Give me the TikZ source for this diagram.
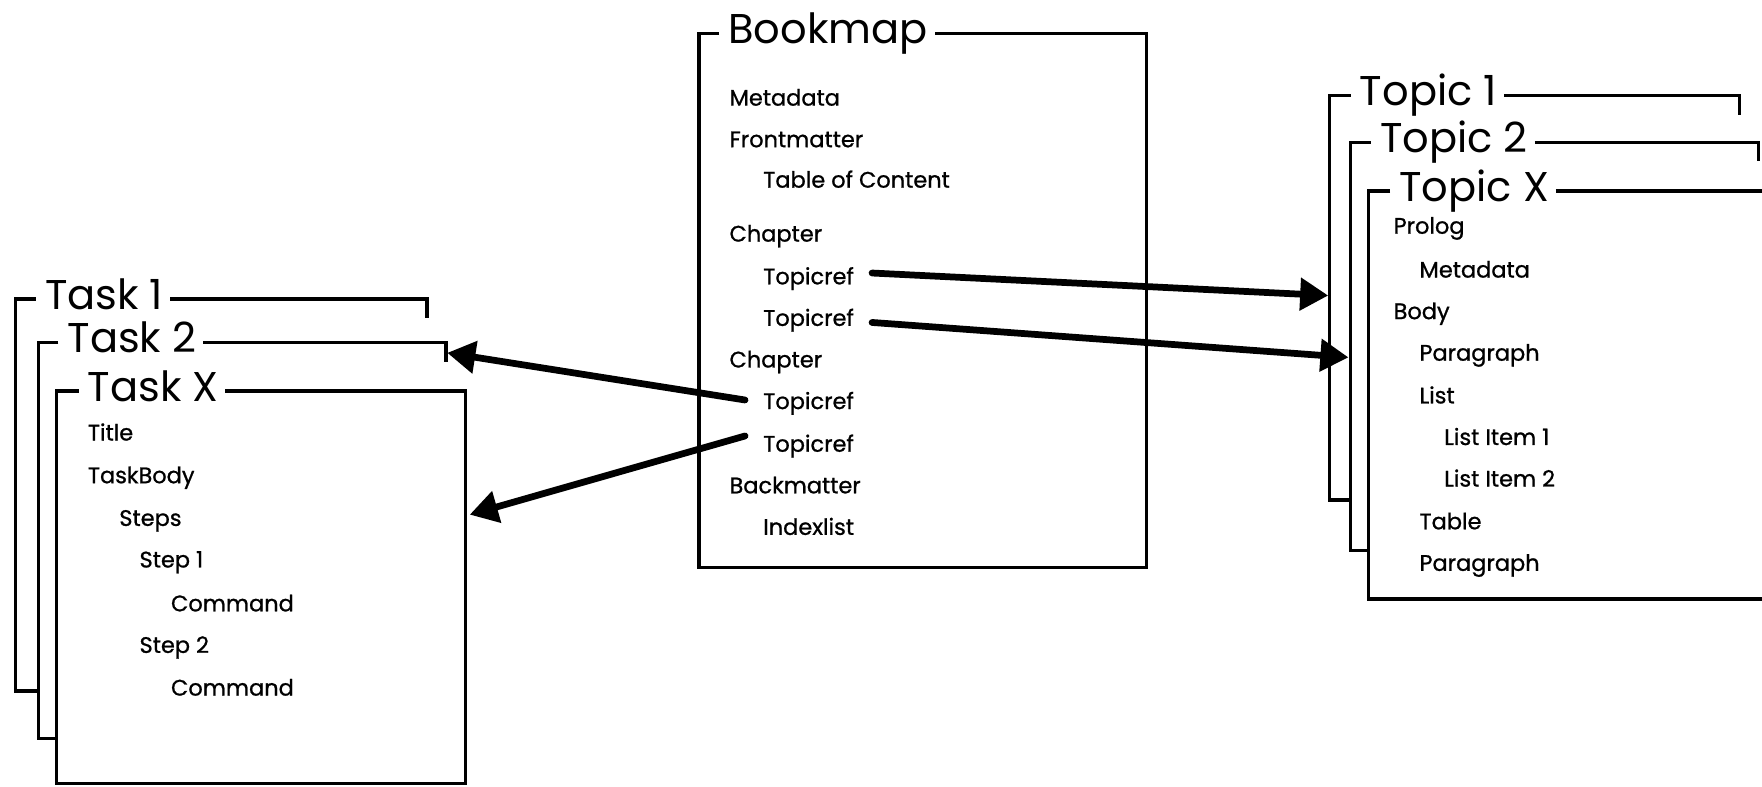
\documentclass[tikz,border=0pt]{standalone}
\usepackage{fontspec}
\setmainfont{Poppins}
\newfontfamily\itmfont{Poppins}[FakeBold=0.9]
\usetikzlibrary{arrows.meta,calc}
\begin{document}
\begin{tikzpicture}[x=1pt,y=-1pt,
  frame/.style={line width=3pt, line join=miter},
  ttl/.style={anchor=base west, inner sep=0pt, font=\fontsize{37}{40}\selectfont},
  itm/.style={anchor=base west, inner sep=0pt, font=\itmfont\fontsize{20}{24}\selectfont},
  arr/.style={line width=6pt, line cap=round, -{Triangle[length=25pt,width=28pt]}}]
\useasboundingbox (0,0) rectangle (1568,700);

% ---------- Bookmap ----------
\node[ttl] (bm) at (648,39) {Bookmap};
\draw[frame] ($(bm.base west)+(-8,-9)$) -| (622,505) -| (1020,30) -- ($(bm.base east)+(6,-9)$);
\node[itm] (b1) at (649,94) {Metadata};
\node[itm] (b2) at (649,131) {Frontmatter};
\node[itm] (b3) at (679,167) {Table of Content};
\node[itm] (b4) at (649,215) {Chapter};
\node[itm] (tr1) at (679,253) {Topicref};
\node[itm] (tr2) at (679,290) {Topicref};
\node[itm] (b7) at (649,327) {Chapter};
\node[itm] (tr3) at (679,364) {Topicref};
\node[itm] (tr4) at (679,402) {Topicref};
\node[itm] (b10) at (649,439) {Backmatter};
\node[itm] (b11) at (679,476) {Indexlist};

% ---------- Tasks ----------
\node[ttl] (t1) at (40,275) {Task 1};
\draw[frame] ($(t1.base west)+(-8,-9)$) -| (14,615) -- (34,615);
\draw[frame] ($(t1.base east)+(6,-9)$) -| (380,283);
\node[ttl] (t2) at (60,314) {Task 2};
\draw[frame] ($(t2.base west)+(-8,-9)$) -| (34,657) -- (50,657);
\draw[frame] ($(t2.base east)+(6,-9)$) -| (397,322);
\node[ttl] (tx) at (78,357) {Task X};
\draw[frame] ($(tx.base west)+(-8,-9)$) -| (50,697) -| (414,348) -- ($(tx.base east)+(6,-9)$);
\node[itm] (k1) at (78,392) {Title};
\node[itm] (k2) at (78,430) {TaskBody};
\node[itm] (k3) at (106,468) {Steps};
\node[itm] (k4) at (124,505) {Step 1};
\node[itm] (k5) at (152,544) {Command};
\node[itm] (k6) at (124,581) {Step 2};
\node[itm] (k7) at (152,619) {Command};

% ---------- Topics ----------
\node[ttl] (p1) at (1210,94) {Topic 1};
\draw[frame] ($(p1.base west)+(-8,-9)$) -| (1183,445) -- (1202,445);
\draw[frame] ($(p1.base east)+(6,-9)$) -| (1548,102);
\node[ttl] (p2) at (1228,136) {Topic 2};
\draw[frame] ($(p2.base west)+(-8,-9)$) -| (1202,490) -- (1218,490);
\draw[frame] ($(p2.base east)+(6,-9)$) -| (1565,143);
\node[ttl] (px) at (1245,179) {Topic X};
\draw[frame] ($(px.base west)+(-8,-9)$) -| (1218,533) -- (1590,533);
\draw[frame] ($(px.base east)+(6,-9)$) -- (1590,170);
\node[itm] (q1) at (1240,208) {Prolog};
\node[itm] (q2) at (1263,247) {Metadata};
\node[itm] (q3) at (1240,284) {Body};
\node[itm] (q4) at (1263,321) {Paragraph};
\node[itm] (q5) at (1263,359) {List};
\node[itm] (q6) at (1285,396) {List Item 1};
\node[itm] (q7) at (1285,433) {List Item 2};
\node[itm] (q8) at (1263,471) {Table};
\node[itm] (q9) at (1263,508) {Paragraph};

% ---------- Arrows ----------
\coordinate (p1in) at (1182,263);
\coordinate (p2in) at (1200,318);
\coordinate (t2in) at (398,314);
\coordinate (txin) at (418,458);
\draw[arr] ([xshift=16pt,yshift=5pt]tr1.east) -- (p1in);
\draw[arr] ([xshift=16pt,yshift=-2pt]tr2.east) -- (p2in);
\draw[arr] ([xshift=-16pt,yshift=3pt]tr3.west) -- (t2in);
\draw[arr] ([xshift=-16pt,yshift=9pt]tr4.west) -- (txin);
\end{tikzpicture}
\end{document}
